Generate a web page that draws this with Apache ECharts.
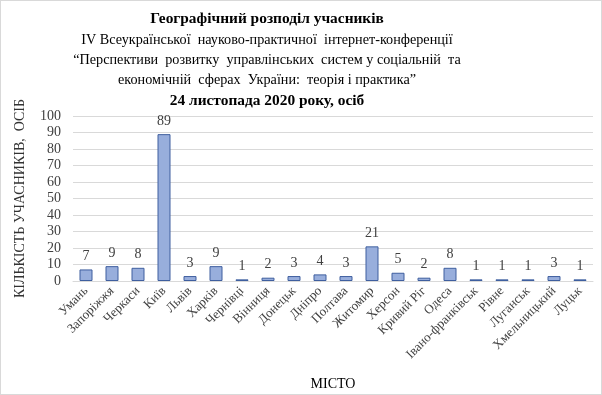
<!DOCTYPE html>
<html><head><meta charset="utf-8">
<script src="https://cdn.jsdelivr.net/npm/echarts@6/dist/echarts.min.js"></script>
<style>html,body{margin:0;padding:0;background:#fff}#c{width:600px;height:393px;border:1px solid #d9d9d9}</style>
</head><body><div id="c"></div>
<script>
const categories = ["Умань","Запоріжжя","Черкаси","Київ","Львів","Харків","Чернівці","Вінниця","Донецьк","Дніпро","Полтава","Житомир","Херсон","Кривий Ріг","Одеса","Івано-франківськ","Рівне","Луганськ","Хмельницький","Луцьк"];
const values = [7,9,8,89,3,9,1,2,3,4,3,21,5,2,8,1,1,1,3,1];
const titleLines = ["Географічний розподіл учасників","IV Всеукраїнської  науково-практичної  інтернет-конференції","“Перспективи  розвитку  управлінських  систем у соціальній  та","економічній  сферах  України:  теорія і практика”","24 листопада 2020 року, осіб"];
const titleBold = [true,false,false,false,true];
const titleY = [6,27,47,67,88];
const font = '"Liberation Serif","Times New Roman",serif';
const chart = echarts.init(document.getElementById('c'));
chart.setOption({
  animation:false,
  title: titleLines.map((t,i)=>({text:t,left:261,top:titleY[i],textAlign:'center',
    textStyle:{fontFamily:font,fontSize:titleBold[i]?15.4:14.2,fontWeight:titleBold[i]?'bold':'normal',color:'#000'}})),
  grid:{left:72,right:8,top:115,bottom:113},
  xAxis:{type:'category',data:categories,name:'МІСТО',nameLocation:'middle',nameGap:96,
    nameTextStyle:{fontFamily:font,fontSize:14,color:'#000'},
    axisTick:{show:false},axisLine:{lineStyle:{color:'#d9d9d9'}},
    axisLabel:{rotate:45,interval:0,fontFamily:font,fontSize:13,color:'#404040',margin:8}},
  yAxis:{type:'value',min:0,max:100,interval:10,name:'КІЛЬКІСТЬ УЧАСНИКІВ,  ОСІБ',nameLocation:'middle',nameGap:46,
    nameTextStyle:{fontFamily:font,fontSize:14,fontWeight:'normal',color:'#333'},
    axisLabel:{fontFamily:font,fontSize:14,color:'#404040',margin:12},
    splitLine:{lineStyle:{color:'#d9d9d9'}}},
  series:[{type:'bar',data:values,barWidth:'50%',
    itemStyle:{color:'#98aedc',borderColor:'#3f5f9f',borderWidth:1},
    label:{show:true,position:'top',distance:6,fontFamily:font,fontSize:14,color:'#404040'}}]
});
</script></body></html>
